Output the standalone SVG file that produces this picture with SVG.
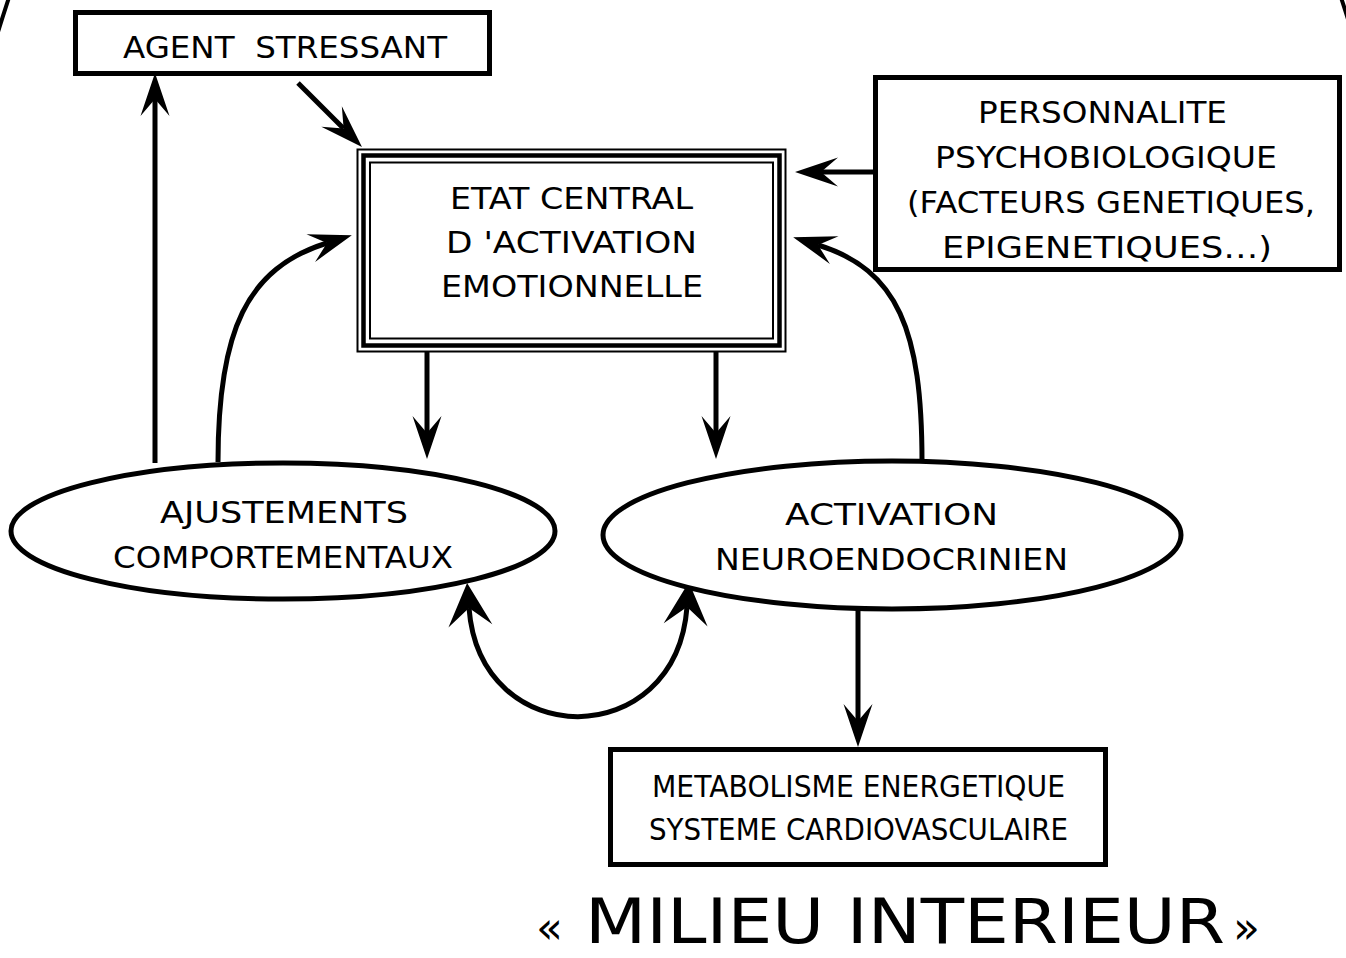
<svg xmlns="http://www.w3.org/2000/svg" width="1346" height="958" viewBox="0 0 1346 958">
  <style>
    .box { fill: #fff; stroke: #000; stroke-width: 5; }
    .oval { fill: #fff; stroke: #000; stroke-width: 5; }
    .thin { fill: none; stroke: #000; stroke-width: 2; }
    .thick { fill: none; stroke: #000; stroke-width: 4.5; }
    .lbl { font-family: "DejaVu Sans", "Liberation Sans", sans-serif; font-size: 31px; fill: #000; text-anchor: middle; }
    .title { font-family: "DejaVu Sans", "Liberation Sans", sans-serif; fill: #000; }
    .wire { fill: none; stroke: #000; stroke-width: 5; }
  </style>
  <defs>
    <!-- stealth heads: notch at origin, tip ahead of it -->
    <marker id="head" markerUnits="userSpaceOnUse" markerWidth="60" markerHeight="40" viewBox="-20 -20 60 40" refX="0" refY="0" orient="auto" overflow="visible">
      <path d="M26,0 L-17,-14.5 L0,0 L-17,14.5 Z" fill="#000"/>
    </marker>
    <marker id="bighead" markerUnits="userSpaceOnUse" markerWidth="60" markerHeight="60" viewBox="-30 -30 60 60" refX="0" refY="0" orient="auto-start-reverse" overflow="visible">
      <path d="M25,0 L-18,-22 L0,0 L-18,22 Z" fill="#000"/>
    </marker>
  </defs>

  <rect width="1346" height="958" fill="#fff"/>

  <!-- enclosing outline of the internal environment -->
  <ellipse id="milieu" cx="675" cy="700" rx="773" ry="1383" fill="none" stroke="#000" stroke-width="4"/>

  <g id="connectors">
    <path class="wire" d="M155,463 L155,99" marker-end="url(#head)"/>
    <path class="wire" d="M298,83 L343.6,128.6" marker-end="url(#head)"/>
    <path class="wire" d="M427,352 L427,433" marker-end="url(#head)"/>
    <path class="wire" d="M716,352 L716,433" marker-end="url(#head)"/>
    <path class="wire" d="M873,172 L821,172" marker-end="url(#head)"/>
    <path class="wire" d="M858,610 L858,721" marker-end="url(#head)"/>
    <path class="wire" d="M218,462 C218,330 247,268 327,243" marker-end="url(#head)"/>
    <path class="wire" d="M922,462 C922,330 898,270 818,245" marker-end="url(#head)"/>
    <path class="wire" d="M469,608 C480,753 676,753 687,607" marker-start="url(#bighead)" marker-end="url(#bighead)"/>
  </g>

  <g id="agent">
    <rect class="box" x="75.5" y="12.5" width="414" height="61"/>
    <text class="lbl" x="285" y="58" textLength="324" lengthAdjust="spacingAndGlyphs" xml:space="preserve">AGENT  STRESSANT</text>
  </g>

  <g id="etat-central">
    <rect x="357.5" y="149.5" width="428" height="202" fill="#fff" stroke="none"/>
    <rect class="thin" x="357.5" y="149.5" width="428" height="202"/>
    <rect class="thick" x="363.5" y="155.5" width="416" height="190"/>
    <rect class="thin" x="370" y="162.5" width="403" height="176"/>
    <text class="lbl" x="571.5" y="209" textLength="243" lengthAdjust="spacingAndGlyphs">ETAT CENTRAL</text>
    <text class="lbl" x="571.5" y="253" textLength="251" lengthAdjust="spacingAndGlyphs">D 'ACTIVATION</text>
    <text class="lbl" x="572" y="297" textLength="262" lengthAdjust="spacingAndGlyphs">EMOTIONNELLE</text>
  </g>

  <g id="personnalite">
    <rect class="box" x="875.5" y="77.5" width="464" height="192"/>
    <text class="lbl" x="1102.5" y="123" textLength="249" lengthAdjust="spacingAndGlyphs">PERSONNALITE</text>
    <text class="lbl" x="1106" y="168" textLength="342" lengthAdjust="spacingAndGlyphs">PSYCHOBIOLOGIQUE</text>
    <text class="lbl" x="1111" y="213" textLength="408" lengthAdjust="spacingAndGlyphs">(FACTEURS GENETIQUES,</text>
    <text class="lbl" x="1107" y="258" textLength="330" lengthAdjust="spacingAndGlyphs">EPIGENETIQUES…)</text>
  </g>

  <g id="ajustements">
    <ellipse class="oval" cx="283" cy="531" rx="272" ry="68"/>
    <text class="lbl" x="284" y="523" textLength="248" lengthAdjust="spacingAndGlyphs">AJUSTEMENTS</text>
    <text class="lbl" x="283" y="568" textLength="340" lengthAdjust="spacingAndGlyphs">COMPORTEMENTAUX</text>
  </g>

  <g id="activation">
    <ellipse class="oval" cx="892" cy="535" rx="289" ry="74"/>
    <text class="lbl" x="891.5" y="525" textLength="213" lengthAdjust="spacingAndGlyphs">ACTIVATION</text>
    <text class="lbl" x="891.5" y="570" textLength="353" lengthAdjust="spacingAndGlyphs">NEUROENDOCRINIEN</text>
  </g>

  <g id="metabolisme">
    <rect class="box" x="610.5" y="749.5" width="495" height="115"/>
    <text class="lbl" x="858.5" y="797" textLength="413" lengthAdjust="spacingAndGlyphs">METABOLISME ENERGETIQUE</text>
    <text class="lbl" x="858.5" y="840" textLength="419" lengthAdjust="spacingAndGlyphs">SYSTEME CARDIOVASCULAIRE</text>
  </g>

  <g id="titre">
    <text class="title" y="943"><tspan x="536" font-size="44">«</tspan><tspan x="585" font-size="63" textLength="640" lengthAdjust="spacingAndGlyphs">MILIEU INTERIEUR</tspan><tspan x="1233" font-size="44">»</tspan></text>
  </g>
</svg>
